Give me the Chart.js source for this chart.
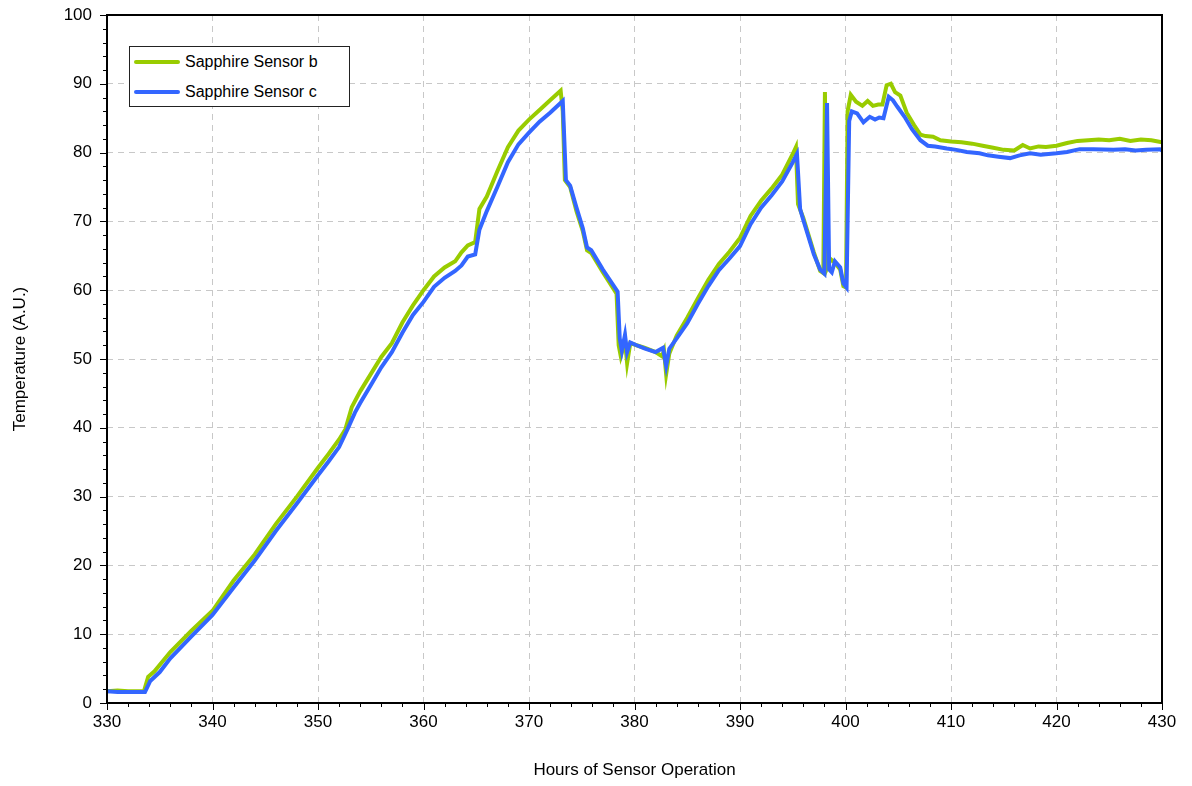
<!DOCTYPE html>
<html>
<head>
<meta charset="utf-8">
<script src="https://cdn.jsdelivr.net/npm/chart.js@4/dist/chart.umd.min.js"></script>
<style>
  html, body { margin: 0; padding: 0; background: #fff; }
  #wrap { position: relative; width: 1192px; height: 786px; }
  #legend {
    position: absolute; left: 129px; top: 46px; width: 219px; height: 59px;
    border: 1px solid #222; background: #fff;
    font-family: Arial, "Liberation Sans", sans-serif; font-size: 16px; color: #000;
  }
  .row { position: absolute; left: 0; height: 20px; display: flex; align-items: center; }
  .swatch { width: 46px; height: 4px; border-radius: 2px; margin-left: 4px; margin-right: 5px; }
</style>
</head>
<body>
<div id="wrap">
  <canvas id="chart" width="1192" height="786"></canvas>
  <div id="legend">
    <div class="row" style="top:5px"><span class="swatch" style="background:#99cc00"></span>Sapphire Sensor b</div>
    <div class="row" style="top:35px"><span class="swatch" style="background:#3366ff"></span>Sapphire Sensor c</div>
  </div>
</div>
<script>
// data
const hoursB = [330, 331, 332, 333, 333.5, 333.9, 334.5, 336, 338, 340, 342, 344, 346, 348, 350, 351, 352, 352.6, 353.2, 354,
  355, 356, 357, 358, 359, 360, 361, 362, 363, 363.6, 364.2, 364.9, 365.3, 366, 367, 368, 369, 370, 371, 372,
  373, 373.2, 373.4, 373.9, 374.5, 375.1, 375.5, 375.9, 377, 378.3, 378.5, 378.7, 378.9, 379.1, 379.3, 379.6, 380.2, 381, 382, 382.6,
  382.8, 383, 383.3, 384, 385, 386, 387, 388, 389, 390, 391, 392, 393, 394, 395, 395.3, 395.5, 396, 397, 397.6,
  397.9, 398.05, 398.25, 398.6, 399, 399.5, 399.8, 400.05, 400.2, 400.5, 401, 401.6, 402.1, 402.6, 403.1, 403.5, 403.9, 404.3, 404.7, 405.2,
  405.8, 406.5, 407.1, 407.6, 408.3, 409, 410, 411, 412, 413, 414, 415, 416, 416.8, 417.5, 418.3, 419, 420, 421, 422,
  423, 424, 425, 426, 427, 428, 429, 430];
const sensorB = [1.7, 1.8, 1.7, 1.7, 1.7, 3.8, 4.6, 7.4, 10.5, 13.4, 17.8, 21.6, 26, 30, 34.2, 36.2, 38.3, 39.8, 43, 45.3,
  47.8, 50.3, 52.3, 55.3, 57.8, 60, 62, 63.3, 64.2, 65.5, 66.5, 67, 71.8, 73.6, 77.3, 80.8, 83.2, 84.8, 86.2, 87.6,
  89, 86, 76, 75, 71.5, 68.6, 65.8, 65.4, 62.6, 59.5, 52, 50.4, 51.5, 52.6, 49.4, 52.3, 52, 51.6, 51, 50.4,
  51.2, 47.8, 50.8, 53.4, 56, 58.8, 61.5, 63.8, 65.6, 67.6, 70.8, 73, 74.8, 76.8, 79.8, 80.8, 72.5, 70.5, 65.5, 62.8,
  62.5, 88.8, 63.2, 64.5, 64, 63, 60.6, 60.4, 86, 88.4, 87.4, 86.8, 87.5, 86.8, 87, 87, 89.8, 90, 88.8, 88.3,
  85.8, 84, 82.6, 82.4, 82.3, 81.8, 81.6, 81.5, 81.3, 81.0, 80.7, 80.4, 80.3, 81.1, 80.6, 80.9, 80.8, 81.0, 81.4, 81.7,
  81.8, 81.9, 81.8, 82.0, 81.7, 81.9, 81.8, 81.5];

const hoursC = [330, 331, 332, 333, 333.6, 334.1, 335, 336, 338, 340, 342, 344, 346, 348, 350, 351, 352, 352.8, 353.5, 354,
  355, 356, 357, 358, 359, 360, 361, 362, 363, 363.6, 364.2, 364.9, 365.3, 366, 367, 368, 369, 370, 371, 372,
  373.2, 373.5, 373.9, 374.5, 375.1, 375.5, 375.9, 377, 378.4, 378.6, 378.8, 379.1, 379.3, 379.6, 380.2, 381, 382, 382.7, 383, 383.3,
  384, 385, 386, 387, 388, 389, 390, 391, 392, 393, 394, 395, 395.4, 395.7, 396, 397, 397.6, 398.0, 398.25, 398.45,
  398.7, 399, 399.5, 399.8, 400.1, 400.35, 400.6, 401.1, 401.7, 402.3, 402.8, 403.2, 403.6, 404.1, 404.5, 404.9, 405.6, 406.3, 407.1, 407.8,
  408.5, 409.6, 410.5, 411.5, 412.7, 413.5, 414.5, 415.6, 416.5, 417.5, 418.5, 420, 421, 422.2, 423.5, 425.4, 426.5, 427.5, 428.5, 429.8,
  430];
const sensorC = [1.7, 1.6, 1.6, 1.6, 1.6, 3.2, 4.5, 6.5, 9.7, 12.8, 16.8, 20.7, 25, 29, 33.1, 35.1, 37.2, 39.8, 42.2, 43.6,
  46.2, 48.8, 51, 53.8, 56.4, 58.3, 60.5, 61.8, 62.8, 63.6, 64.9, 65.2, 68.8, 71.5, 75, 78.6, 81.2, 82.9, 84.5, 85.8,
  87.5, 76, 75.2, 72, 69, 66.2, 65.8, 63, 59.8, 53, 51.2, 53.5, 51, 52.4, 52, 51.5, 51, 51.6, 49, 51.5,
  53, 55.2, 58, 60.6, 62.9, 64.6, 66.4, 69.6, 72, 73.8, 75.8, 78.6, 79.8, 71.8, 70.2, 65.2, 63, 62.4, 87.2, 63,
  62.6, 64.2, 63.3, 61, 60.4, 84.6, 86, 85.7, 84.4, 85.2, 84.8, 85.1, 85, 88.1, 87.6, 86.7, 85.2, 83.4, 81.8, 81.0,
  80.9, 80.6, 80.4, 80.1, 79.9, 79.6, 79.4, 79.2, 79.6, 79.9, 79.7, 79.9, 80.1, 80.5, 80.5, 80.4, 80.5, 80.3, 80.4, 80.5,
  80.3];

const FONT = 'Arial, "Liberation Sans", sans-serif';

function toPoints(xs, ys) {
  return xs.map((x, i) => ({ x: x, y: ys[i] }));
}

// frame + outward major/minor ticks
const framePlugin = {
  id: 'frame',
  afterDraw(chart) {
    const ctx = chart.ctx;
    const a = chart.chartArea;
    const xs = chart.scales.x, ys = chart.scales.y;
    ctx.save();
    ctx.strokeStyle = '#000';
    ctx.lineWidth = 1;
    for (let v = 330; v <= 430; v += 2) {
      const px = Math.round(xs.getPixelForValue(v)) + 0.5;
      const len = v % 10 === 0 ? 7 : 4;
      ctx.beginPath();
      ctx.moveTo(px, a.bottom);
      ctx.lineTo(px, a.bottom + len);
      ctx.stroke();
    }
    for (let v = 0; v <= 100; v += 2) {
      const py = Math.round(ys.getPixelForValue(v)) + 0.5;
      const len = v % 10 === 0 ? 7 : 4;
      ctx.beginPath();
      ctx.moveTo(a.left, py);
      ctx.lineTo(a.left - len, py);
      ctx.stroke();
    }
    ctx.lineWidth = 2;
    ctx.strokeRect(a.left, a.top, a.right - a.left, a.bottom - a.top);
    ctx.restore();
  }
};

new Chart(document.getElementById('chart'), {
  type: 'line',
  data: {
    datasets: [
      {
        label: 'Sapphire Sensor b',
        data: toPoints(hoursB, sensorB),
        borderColor: '#99cc00',
        borderWidth: 4,
        pointRadius: 0,
        tension: 0,
        order: 1
      },
      {
        label: 'Sapphire Sensor c',
        data: toPoints(hoursC, sensorC),
        borderColor: '#3366ff',
        borderWidth: 4,
        pointRadius: 0,
        tension: 0,
        order: 0
      }
    ]
  },
  options: {
    responsive: false,
    animation: false,
    layout: { padding: { top: 15, right: 30, left: 0, bottom: 0 } },
    plugins: { legend: { display: false }, tooltip: { enabled: false } },
    scales: {
      x: {
        type: 'linear',
        min: 330, max: 430,
        afterFit: (s) => { s.height = 83; s.paddingLeft = 0; s.paddingRight = 0; },
        ticks: { stepSize: 10, padding: 9, color: '#000', font: { family: FONT, size: 17 } },
        grid: { color: '#c8c8c8', lineWidth: 1, drawTicks: false },
        border: { display: false, dash: [6, 5] },
        title: { display: true, text: 'Hours of Sensor Operation', color: '#000', padding: { top: 0, bottom: 5 }, font: { family: FONT, size: 17 } }
      },
      y: {
        min: 0, max: 100,
        afterFit: (s) => { s.width = 107; s.paddingTop = 0; s.paddingBottom = 0; },
        ticks: { stepSize: 10, padding: 15, color: '#000', font: { family: FONT, size: 17 } },
        grid: { color: '#c8c8c8', lineWidth: 1, drawTicks: false },
        border: { display: false, dash: [6, 5] },
        title: { display: true, text: 'Temperature (A.U.)', color: '#000', padding: { top: 10, bottom: 0 }, font: { family: FONT, size: 17 } }
      }
    }
  },
  plugins: [framePlugin]
});
</script>
</body>
</html>
